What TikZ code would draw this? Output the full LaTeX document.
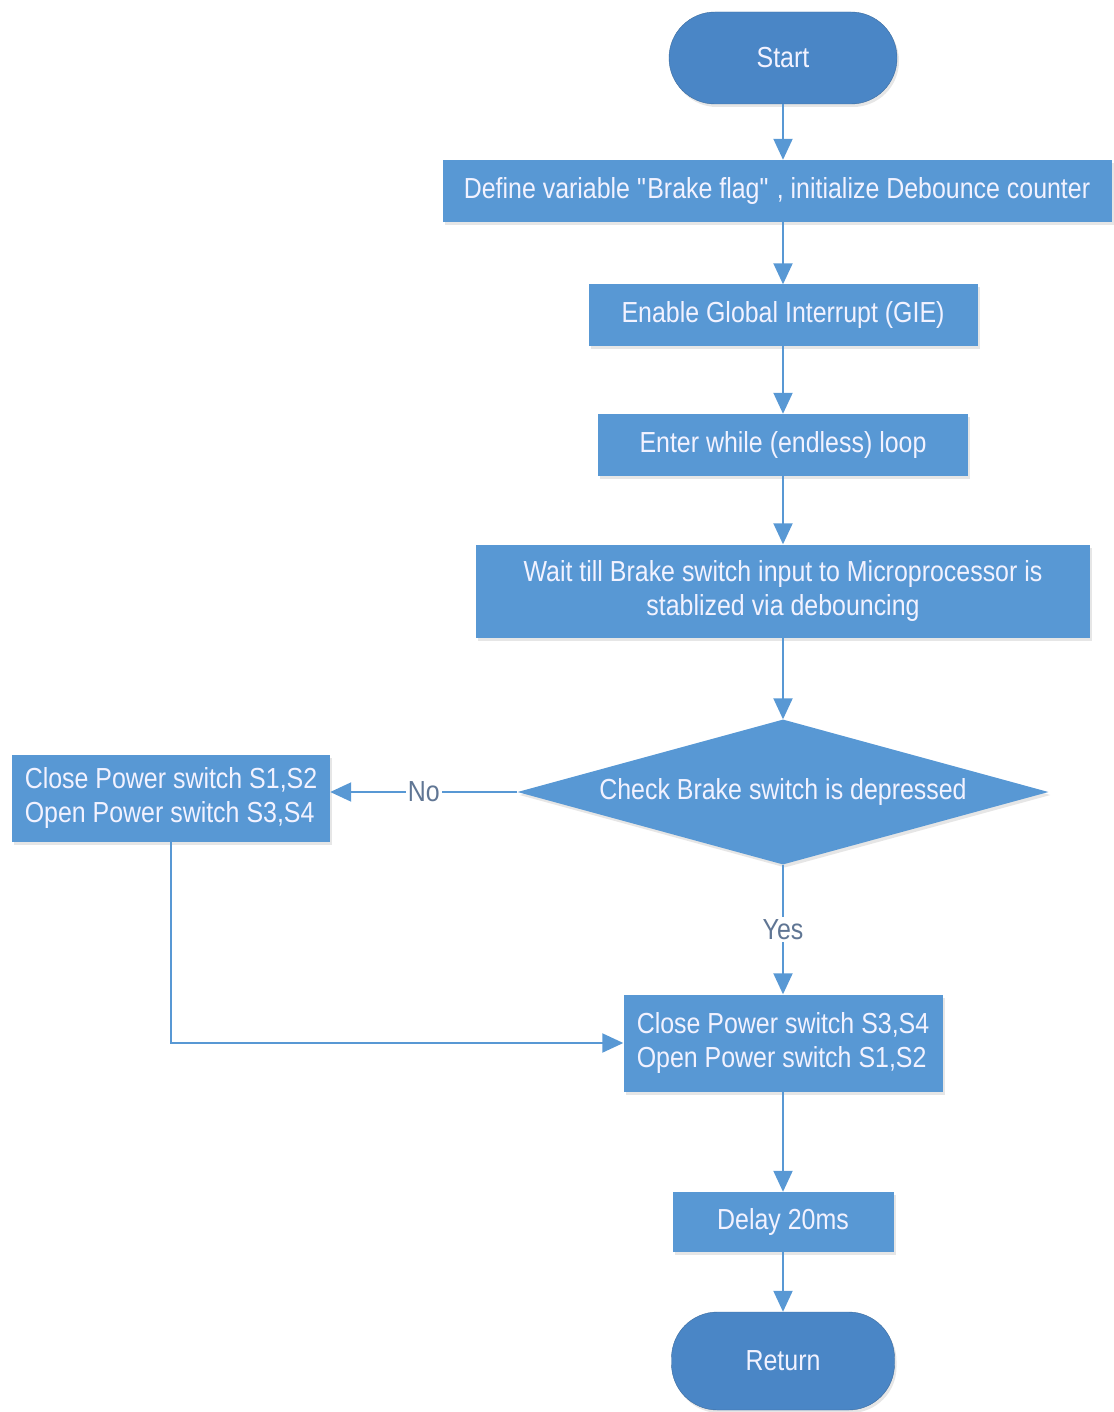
\documentclass[tikz,border=0pt]{standalone}
\usepackage{fontspec}
\setmainfont{Liberation Sans}[FakeStretch=0.86]
\usetikzlibrary{shapes.geometric,arrows.meta,shadows}
\definecolor{flowblue}{RGB}{88,152,212}
\definecolor{termblue}{RGB}{74,134,198}
\definecolor{labelgray}{RGB}{96,118,148}

\begin{document}
\begin{tikzpicture}[x=1pt,y=-1pt,>={Triangle[length=21pt,width=19pt]},
    every node/.style={font=\fontsize{29}{34}\selectfont},
    box/.style={rectangle,fill=flowblue,text=white!95!blue,inner sep=0pt,
        drop shadow={opacity=0.2,shadow xshift=2pt,shadow yshift=-3pt}},
    term/.style={box,fill=termblue,draw=termblue!80!black,rounded corners=46pt},
    check/.style={box,diamond,aspect=3.66},
    flow/.style={->,draw=flowblue,line width=2pt},
    lbl/.style={fill=white,text=labelgray,inner sep=2pt}]
    \useasboundingbox (0,0) rectangle (1113,1412);

    \node[term,minimum width=228pt,minimum height=92pt] (start) at (783,58) {Start};
    \node[box,minimum width=669pt,minimum height=62pt] (define) at (777,191)
        {Define variable \textquotedbl Brake flag\textquotedbl\ , initialize Debounce counter};
    \node[box,minimum width=389pt,minimum height=61pt] (gie) at (783,315)
        {Enable Global Interrupt (GIE)};
    \node[box,minimum width=370pt,minimum height=62pt] (loop) at (783,445)
        {Enter while (endless) loop};
    \node[box,minimum width=614pt,minimum height=93pt,align=center] (wait) at (783,591)
        {Wait till Brake switch input to Microprocessor is\\ stablized via debouncing};
    \node[check,minimum width=531pt,minimum height=145pt] (chk) at (783,792)
        {Check Brake switch is depressed};
    \node[box,minimum width=318pt,minimum height=87pt,align=left] (left) at (171,798)
        {Close Power switch S1,S2\\ Open Power switch S3,S4};
    \node[box,minimum width=319pt,minimum height=97pt,align=left] (close) at (783,1043)
        {Close Power switch S3,S4\\ Open Power switch S1,S2};
    \node[box,minimum width=221pt,minimum height=60pt] (delay) at (783,1222) {Delay 20ms};
    \node[term,minimum width=223pt,minimum height=98pt] (ret) at (783,1361) {Return};

    \draw[flow] (start.south) -- (start.south |- define.north);
    \draw[flow] (start.south |- define.south) -- (gie.north);
    \draw[flow] (gie) -- (loop);
    \draw[flow] (loop) -- (wait);
    \draw[flow] (wait) -- (chk);
    \draw[flow] (chk.west) -- (chk.west -| left.east) node[lbl,midway] {No};
    \draw[flow] (chk.south) -- (close.north) node[lbl,midway] {Yes};
    \draw[flow] (left.south) |- (close.west);
    \draw[flow] (close) -- (delay);
    \draw[flow] (delay) -- (ret);
\end{tikzpicture}
\end{document}
